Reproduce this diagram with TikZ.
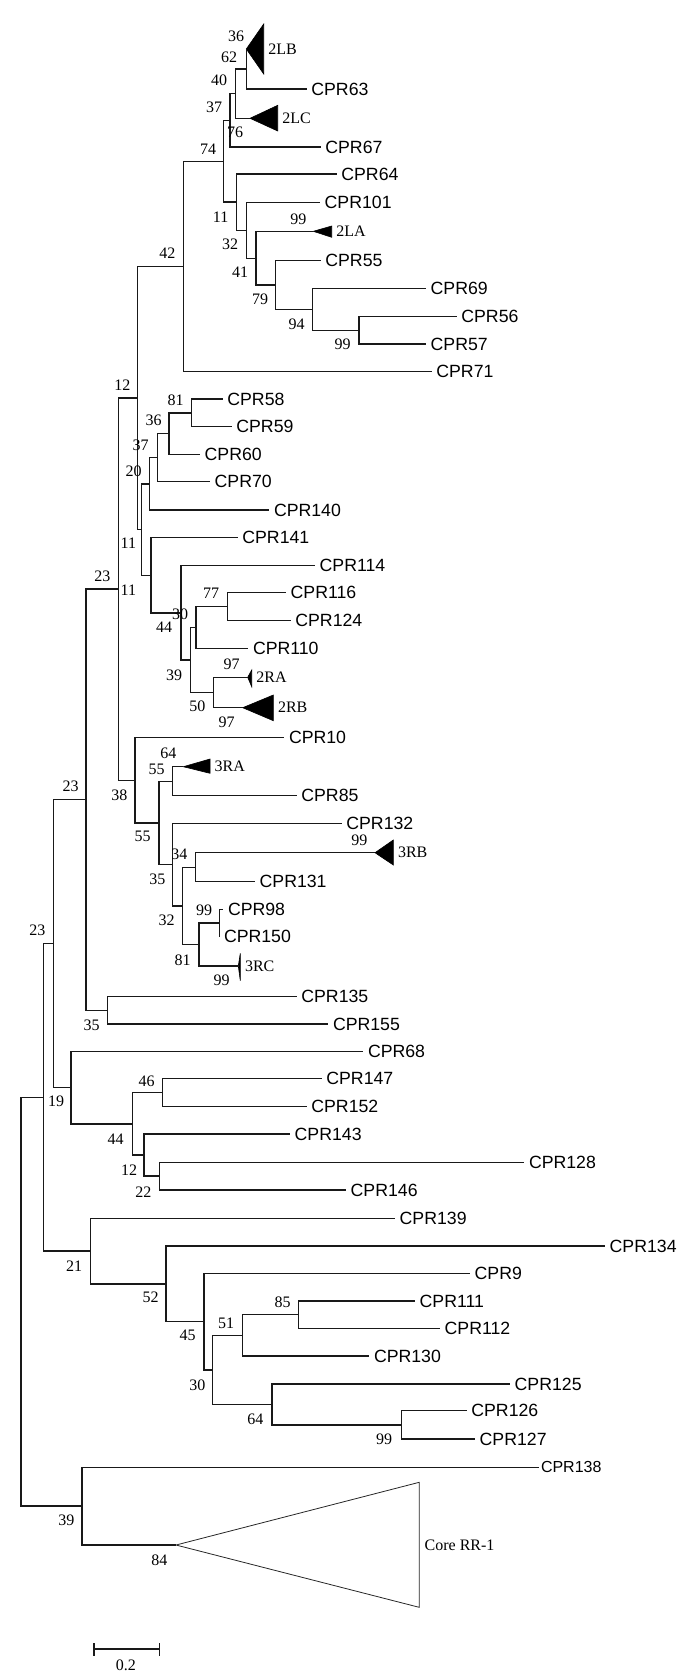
\documentclass[tikz,border=0pt]{standalone}
\usepackage{fontspec}
\setmainfont{Liberation Serif}
\newfontfamily\arialf{Liberation Sans}
\begin{document}
\begin{tikzpicture}[x=1pt,y=-1pt,
  br/.style={line width=1.4pt,black!90},
  tax/.style={inner sep=0pt,anchor=west,font=\arialf\fontsize{17.7}{20}\selectfont},
  bs/.style={inner sep=0pt,font=\fontsize{16}{18}\selectfont},
  cl/.style={inner sep=0pt,anchor=west,font=\fontsize{16}{18}\selectfont},
  clade/.style={fill=black,draw=black,line width=0.6pt,line join=miter},
  core/.style={line width=0.8pt,black!85}]
\useasboundingbox (0,0) rectangle (685,1679);
% internal nodes
\foreach \n/\x/\y in {R/21/1301.8, N23c/43.7/1097.4, NA/53.3/943.75, N23b/86/799.75,
  N23a/118.3/589.15, N12/137.7/398, N42/183.3/266.45, N74/223.3/161.2, N37t/230/120.35,
  N40/235.7/93.7, N62/246.3/69, N11t/236.7/202.1, N32t/246.3/230.25, N41/256/258.2,
  N79/275.7/285.1, N94/312.7/309.5, N99t/359/330.35, N11a/141.7/529.55, N20/149.3/483.8,
  N37/157.3/457.65, N36/169/433.6, N81/191.7/412.85, N11b/151/575.3, N44a/181/612.85,
  N39a/190.7/660, N30a/196/627.5, N77/227.7/606.7, N50/213.3/692.5, N38/135/780.3,
  N55b/159/822.9, N55a/172.7/781.2, N35a/172.7/864.6, N32a/182.7/905.85, N34/195.7/867.2,
  N81b/199/944.5, N99b/219.3/923, N35b/107.7/1010.35, N19/71/1087.75, N44b/132.3/1123.8,
  N46/162.7/1092.5, N12b/144/1155.1, N22/159.3/1176.15, N21/90.7/1251.05, N52/166/1283.8,
  N45/204/1321.6, N30b/212.7/1369.85, N51/242.3/1335.3, N85/298.7/1314.65, N64/272/1404.4,
  N99c/401.7/1424.85, N39/82.1/1506.15}
  \coordinate (\n) at (\x,\y);
% leaves
\foreach \n/\x/\y in {63/306.7/89, 67/320.7/147, 64/336.7/174, 101/320/202.3, 55/320.7/260.7,
  69/426/288.7, 56/456.7/316.7, 57/426/344, 71/431.7/371.7, 58/222.7/399, 59/231.7/426.7,
  60/200/454.3, 70/210/481.7, 140/269.3/510, 141/237.7/537.7, 114/315/565.7, 116/286/592.7,
  124/290.7/620.7, 110/248.3/648.3, 10/284.3/737.7, 85/296.7/795.7, 132/341.7/823.3,
  131/255/881.7, 98/223.3/909.3, 150/219.3/936.7, 135/296.7/996.7, 155/328.3/1024,
  68/363.3/1051.7, 147/321.7/1078.3, 152/306.7/1106.7, 143/290/1134, 128/524.3/1162.3,
  146/346/1190, 139/395/1218.3, 134/605/1246, 9/470/1273.3, 111/415/1301, 112/440/1328.3,
  130/369.3/1356, 125/510/1384, 126/466.7/1410.7, 127/475/1439}
  {\coordinate (L\n) at (\x,\y);
   \node[tax] (T\n) at ([xshift=4.5pt]L\n) {CPR\n};}
\coordinate (L138) at (539.3,1467.3);
\node[tax,font=\arialf\fontsize{16}{18}\selectfont] (T138) at ([xshift=1.5pt]L138) {CPR138};
% collapsed clades
\foreach \n/\ax/\ay/\bx/\ya/\yb in {2LB/246.3/49/263.7/24/74, 2LC/250/118.3/277.7/105.3/131,
  2LA/313.3/231.3/331.7/226/237.3, 2RA/247.7/677.3/251.7/670/686.7,
  2RB/242.7/707.7/273.3/695/720.7, 3RA/183.3/766.7/210/759/773.3,
  3RB/375/852.7/393.3/840/865, 3RC/238.3/966/240.3/953.3/980.7}
  {\coordinate (A\n) at (\ax,\ay);
   \filldraw[clade] (A\n) -- (\bx,\ya) -- (\bx,\yb) -- cycle;
   \node[cl] (C\n) at (\bx+4.5,\ay) {\n};}
\coordinate (ACore) at (176,1545);
\draw[core] (ACore) -- (419.2,1482.3) -- (419.2,1607.3) -- cycle;
\node[cl] (CCore) at (424.5,1545) {Core RR-1};
% branches
\foreach \p/\c in {R/N23c, R/N39, N23c/NA, N23c/N21, NA/N23b, NA/N19, N23b/N23a, N23b/N35b,
  N23a/N12, N23a/N38, N12/N42, N12/N11a, N42/N74, N42/L71, N74/N37t, N74/N11t,
  N37t/N40, N37t/L67, N40/N62, N40/A2LC, N62/A2LB, N62/L63, N11t/L64, N11t/N32t,
  N32t/L101, N32t/N41, N41/A2LA, N41/N79, N79/L55, N79/N94, N94/L69, N94/N99t,
  N99t/L56, N99t/L57, N11a/N20, N11a/N11b, N20/N37, N20/L140, N37/N36, N37/L70,
  N36/N81, N36/L60, N81/L58, N81/L59, N11b/L141, N11b/N44a, N44a/L114, N44a/N39a,
  N39a/N30a, N39a/N50, N30a/N77, N30a/L110, N77/L116, N77/L124, N50/A2RA, N50/A2RB,
  N38/L10, N38/N55b, N55b/N55a, N55b/N35a, N55a/A3RA, N55a/L85, N35a/L132, N35a/N32a,
  N32a/N34, N32a/N81b, N34/A3RB, N34/L131, N81b/N99b, N81b/A3RC, N99b/L98, N99b/L150,
  N35b/L135, N35b/L155, N19/L68, N19/N44b, N44b/N46, N44b/N12b, N46/L147, N46/L152,
  N12b/L143, N12b/N22, N22/L128, N22/L146, N21/L139, N21/N52, N52/L134, N52/N45,
  N45/L9, N45/N30b, N30b/N51, N30b/N64, N51/N85, N51/L130, N85/L111, N85/L112,
  N64/L125, N64/N99c, N99c/L126, N99c/L127, N39/L138, N39/ACore}
  \draw[br] (\p) |- (\c);
% bootstrap values
\foreach \t/\x/\y [count=\i] in {36/236/36, 62/229/57, 40/219/80.7, 37/214/107.7, 76/235/132.7,
  74/208/149.3, 42/167.3/253.3, 11/220.7/217.7, 99/298.3/219, 32/230/244.7, 41/240/272.7,
  79/260/299.3, 94/296.7/324.3, 99/342.7/344.3, 12/122.3/384.8, 81/175.7/400.7,
  36/153.7/420.5, 37/140.5/445, 20/133.7/471, 11/128.3/543.3, 23/102.3/576, 11/128.3/590,
  77/211/593.3, 30/180/614.3, 44/164/627.3, 97/231.7/664.3, 39/174/675, 50/197.3/706.7,
  97/226.7/722.7, 64/168.3/753.3, 55/156.7/769, 23/70.7/786.6, 38/119.3/795,
  55/142.7/836.7, 99/359.3/840, 34/179.3/854, 35/157.3/879, 99/204/910, 32/166.7/920,
  23/37.3/930.4, 81/182.7/960, 99/221.7/980.7, 35/91.7/1025, 46/146.7/1081.7,
  19/56/1101.7, 44/115.7/1139.3, 12/129/1170, 22/143.3/1191.7, 21/74/1266,
  52/150.7/1297.7, 85/282.7/1302.3, 51/226/1323.3, 45/187.7/1335.7, 30/197.3/1385,
  64/255.3/1419.3, 99/384/1439, 39/66.4/1520, 84/159.4/1560}
  \node[bs] (b\i) at (\x,\y) {\t};
% scale bar
\coordinate (s1) at (93.9,1649);
\coordinate (s2) at (159.4,1649);
\draw[br] (s1) -- (s2);
\draw[br] ([yshift=-6.5pt]s1) -- ([yshift=6.5pt]s1);
\draw[br] ([yshift=-6.5pt]s2) -- ([yshift=6.5pt]s2);
\node[bs] (sbl) at (125.8,1665) {0.2};
\end{tikzpicture}
\end{document}
